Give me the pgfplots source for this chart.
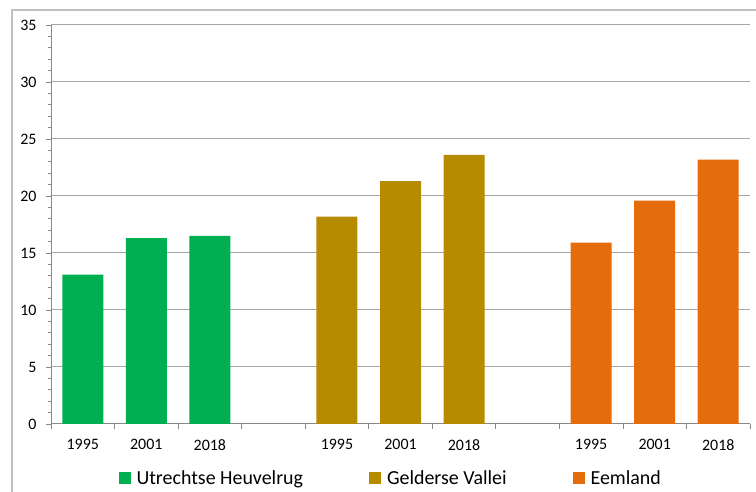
\documentclass[border=0pt]{standalone}
\usepackage{fontspec}
\setmainfont{Carlito}
\usepackage{pgfplots}
\pgfplotsset{compat=1.18}
\definecolor{cgreen}{HTML}{00B050}
\definecolor{cgold}{HTML}{B78B00}
\definecolor{corange}{HTML}{E46C0A}
\definecolor{cgrid}{HTML}{A6A6A6}
\definecolor{caxis}{HTML}{888888}
\definecolor{cframe}{HTML}{C0C0C0}
\begin{document}
\begin{tikzpicture}[x=1bp,y=1bp]
\path[use as bounding box] (0,0) rectangle (756,492);
\draw[cframe, line width=1.2bp] (12,0) -- (12,482) -- (756,482);
\begin{axis}[
  at={(51bp,68bp)}, anchor=south west,
  scale only axis, width=699bp, height=399bp,
  xmin=-0.5, xmax=10.5, ymin=0, ymax=35,
  axis lines*=left,
  axis line style={caxis, line width=1bp},
  ytick={0,5,...,35}, minor y tick num=4,
  ymajorgrids, grid style={cgrid, line width=1bp},
  tick align=outside, major tick length=5bp, minor tick length=3bp,
  tick style={caxis, line width=0.8bp},
  xtick={-0.5,0.5,1.5,2.5,3.5,4.5,5.5,6.5,7.5,8.5,9.5,10.5},
  xticklabels={},
  extra x ticks={0,1,2,4,5,6,8,9,10},
  extra x tick labels={1995,2001,2018,1995,2001,2018,1995,2001,2018},
  extra x tick style={major tick length=0pt, xticklabel style={yshift=-12bp}},
  /pgf/number format/assume math mode=true,
  ticklabel style={font=\fontsize{16}{18}\selectfont, text=black},
  yticklabel style={xshift=-6bp},
  legend style={at={(0.486,-0.135)}, anchor=center, draw=none, fill=none,
    legend columns=3, font=\fontsize{20}{24}\selectfont,
    /tikz/every odd column/.append style={column sep=4bp},
    /tikz/every even column/.append style={column sep=64bp}},
  legend image code/.code={\fill[#1] (0bp,-6bp) rectangle (12bp,6bp);},
]
\addplot[ybar, bar width=41bp, bar shift=0pt, fill=cgreen, draw=none]
  coordinates {(0,13.1) (1,16.3) (2,16.5)};
\addlegendentry{Utrechtse Heuvelrug}
\addplot[ybar, bar width=41bp, bar shift=0pt, fill=cgold, draw=none]
  coordinates {(4,18.2) (5,21.3) (6,23.6)};
\addlegendentry{Gelderse Vallei}
\addplot[ybar, bar width=41bp, bar shift=0pt, fill=corange, draw=none]
  coordinates {(8,15.9) (9,19.6) (10,23.2)};
\addlegendentry{Eemland}
\end{axis}
\end{tikzpicture}
\end{document}
